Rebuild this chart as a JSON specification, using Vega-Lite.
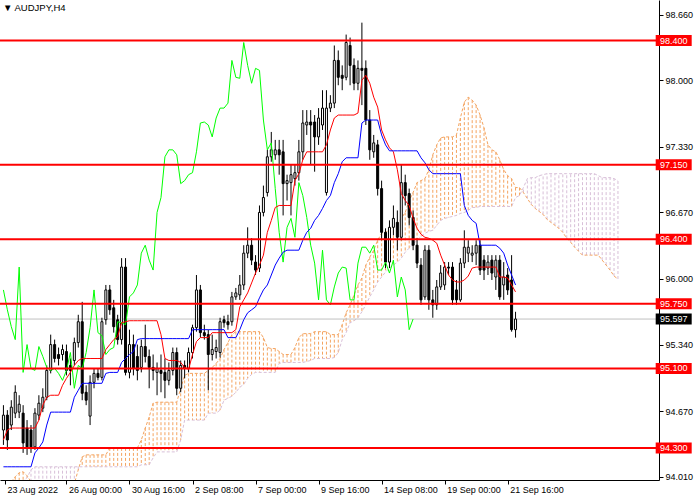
{
  "$schema": "https://vega.github.io/schema/vega-lite/v6.json",
  "width": 659,
  "height": 480,
  "autosize": {"type": "none"},
  "padding": {"left": 0, "top": 0, "right": 41, "bottom": 20},
  "background": "white",
  "config": {
    "view": {"stroke": null},
    "font": "Liberation Sans",
    "axis": {"grid": false, "labelFontSize": 9, "labelColor": "black", "tickColor": "black", "domainColor": "black", "tickSize": 4, "labelBound": false, "labelFlush": false, "labelOverlap": false}
  },
  "title": {"text": "▼ AUDJPY,H4", "anchor": "start", "frame": "group", "offset": -12, "dx": 3, "fontSize": 9.5, "fontWeight": "normal", "color": "black"},
  "datasets": {
    "bars": [
      {"i":0,"o":94.48,"h":94.73,"l":94.33,"c":94.63,"t":94.38,"k":94.11,"a":93.90,"b":93.88},
      {"i":1,"o":94.63,"h":94.68,"l":94.28,"c":94.38,"t":94.48,"k":94.11,"a":93.92,"b":93.89},
      {"i":2,"o":94.53,"h":94.78,"l":94.48,"c":94.71,"t":94.50,"k":94.11,"a":93.96,"b":93.91},
      {"i":3,"o":94.65,"h":94.93,"l":94.60,"c":94.86,"t":94.50,"k":94.11,"a":94.01,"b":93.93},
      {"i":4,"o":94.66,"h":94.83,"l":94.60,"c":94.74,"t":94.50,"k":94.11,"a":94.05,"b":93.95},
      {"i":5,"o":94.65,"h":94.73,"l":94.25,"c":94.35,"t":94.50,"k":94.11,"a":94.06,"b":93.97},
      {"i":6,"o":94.50,"h":94.58,"l":94.23,"c":94.31,"t":94.50,"k":94.11,"a":94.02,"b":94.00},
      {"i":7,"o":94.48,"h":94.53,"l":94.25,"c":94.31,"t":94.50,"k":94.11,"a":93.96,"b":94.08},
      {"i":8,"o":94.31,"h":94.70,"l":94.28,"c":94.65,"t":94.50,"k":94.25,"a":93.94,"b":94.11},
      {"i":9,"o":94.63,"h":94.83,"l":94.58,"c":94.75,"t":94.58,"k":94.30,"a":93.94,"b":94.11},
      {"i":10,"o":94.70,"h":94.90,"l":94.66,"c":94.81,"t":94.73,"k":94.36,"a":93.94,"b":94.11},
      {"i":11,"o":94.81,"h":95.13,"l":94.78,"c":95.08,"t":94.81,"k":94.53,"a":93.94,"b":94.11},
      {"i":12,"o":95.08,"h":95.44,"l":95.05,"c":95.34,"t":94.83,"k":94.66,"a":93.94,"b":94.11},
      {"i":13,"o":95.34,"h":95.39,"l":95.16,"c":95.20,"t":94.83,"k":94.66,"a":93.94,"b":94.11},
      {"i":14,"o":95.24,"h":95.31,"l":95.13,"c":95.20,"t":94.83,"k":94.66,"a":93.94,"b":94.11},
      {"i":15,"o":95.24,"h":95.34,"l":95.18,"c":95.29,"t":94.93,"k":94.66,"a":93.94,"b":94.11},
      {"i":16,"o":95.27,"h":95.34,"l":95.03,"c":95.08,"t":95.00,"k":94.66,"a":93.94,"b":94.11},
      {"i":17,"o":95.13,"h":95.20,"l":94.93,"c":95.08,"t":95.06,"k":94.66,"a":93.94,"b":94.11},
      {"i":18,"o":95.18,"h":95.41,"l":95.13,"c":95.36,"t":95.13,"k":94.81,"a":93.94,"b":94.11},
      {"i":19,"o":95.36,"h":95.64,"l":95.31,"c":95.57,"t":95.18,"k":94.88,"a":94.08,"b":94.11},
      {"i":20,"o":95.57,"h":95.77,"l":94.78,"c":94.85,"t":95.20,"k":94.95,"a":94.21,"b":94.11},
      {"i":21,"o":94.86,"h":94.93,"l":94.73,"c":94.78,"t":95.20,"k":94.95,"a":94.23,"b":94.11},
      {"i":22,"o":94.62,"h":95.03,"l":94.53,"c":94.96,"t":95.20,"k":94.95,"a":94.23,"b":94.11},
      {"i":23,"o":94.96,"h":95.10,"l":94.90,"c":95.05,"t":95.20,"k":94.95,"a":94.23,"b":94.11},
      {"i":24,"o":95.05,"h":95.10,"l":94.98,"c":95.01,"t":95.20,"k":94.95,"a":94.23,"b":94.11},
      {"i":25,"o":95.01,"h":95.61,"l":94.98,"c":95.57,"t":95.20,"k":94.95,"a":94.23,"b":94.11},
      {"i":26,"o":95.59,"h":95.94,"l":95.54,"c":95.89,"t":95.29,"k":95.05,"a":94.23,"b":94.11},
      {"i":27,"o":95.89,"h":95.94,"l":95.64,"c":95.69,"t":95.34,"k":95.06,"a":94.30,"b":94.11},
      {"i":28,"o":95.71,"h":95.79,"l":95.46,"c":95.52,"t":95.39,"k":95.06,"a":94.30,"b":94.11},
      {"i":29,"o":95.59,"h":95.64,"l":95.34,"c":95.39,"t":95.42,"k":95.06,"a":94.30,"b":94.11},
      {"i":30,"o":95.39,"h":96.21,"l":95.34,"c":96.12,"t":95.56,"k":95.16,"a":94.30,"b":94.11},
      {"i":31,"o":96.12,"h":96.21,"l":95.03,"c":95.06,"t":95.57,"k":95.20,"a":94.30,"b":94.11},
      {"i":32,"o":95.06,"h":95.49,"l":95.00,"c":95.34,"t":95.58,"k":95.24,"a":94.30,"b":94.11},
      {"i":33,"o":95.34,"h":95.44,"l":95.03,"c":95.10,"t":95.58,"k":95.27,"a":94.30,"b":94.11},
      {"i":34,"o":95.22,"h":95.34,"l":94.98,"c":95.08,"t":95.58,"k":95.39,"a":94.30,"b":94.11},
      {"i":35,"o":95.11,"h":95.39,"l":95.06,"c":95.32,"t":95.58,"k":95.40,"a":94.38,"b":94.13},
      {"i":36,"o":95.32,"h":95.54,"l":95.16,"c":95.22,"t":95.58,"k":95.40,"a":94.50,"b":94.13},
      {"i":37,"o":95.22,"h":95.29,"l":94.90,"c":95.11,"t":95.58,"k":95.40,"a":94.61,"b":94.13},
      {"i":38,"o":95.11,"h":95.24,"l":94.98,"c":95.08,"t":95.58,"k":95.40,"a":94.75,"b":94.20},
      {"i":39,"o":95.06,"h":95.16,"l":94.83,"c":95.10,"t":95.58,"k":95.40,"a":94.76,"b":94.26},
      {"i":40,"o":95.08,"h":95.24,"l":94.86,"c":95.05,"t":95.44,"k":95.40,"a":94.76,"b":94.26},
      {"i":41,"o":95.06,"h":95.20,"l":94.80,"c":94.98,"t":95.20,"k":95.40,"a":94.76,"b":94.26},
      {"i":42,"o":94.98,"h":95.16,"l":94.93,"c":95.08,"t":95.18,"k":95.40,"a":94.76,"b":94.26},
      {"i":43,"o":95.08,"h":95.31,"l":95.03,"c":95.26,"t":95.18,"k":95.40,"a":94.76,"b":94.26},
      {"i":44,"o":95.26,"h":95.31,"l":94.83,"c":94.90,"t":95.18,"k":95.40,"a":94.76,"b":94.26},
      {"i":45,"o":94.90,"h":95.18,"l":94.86,"c":95.13,"t":95.16,"k":95.40,"a":94.90,"b":94.38},
      {"i":46,"o":95.13,"h":95.18,"l":95.00,"c":95.10,"t":95.11,"k":95.40,"a":95.03,"b":94.58},
      {"i":47,"o":95.10,"h":95.31,"l":95.06,"c":95.26,"t":95.09,"k":95.40,"a":95.05,"b":94.58},
      {"i":48,"o":95.26,"h":95.54,"l":95.20,"c":95.51,"t":95.24,"k":95.49,"a":95.05,"b":94.58},
      {"i":49,"o":95.51,"h":96.04,"l":95.47,"c":95.89,"t":95.37,"k":95.49,"a":95.05,"b":94.58},
      {"i":50,"o":95.89,"h":95.94,"l":95.41,"c":95.46,"t":95.41,"k":95.49,"a":95.05,"b":94.58},
      {"i":51,"o":95.46,"h":95.54,"l":95.39,"c":95.43,"t":95.41,"k":95.49,"a":95.05,"b":94.58},
      {"i":52,"o":95.44,"h":95.49,"l":94.88,"c":95.24,"t":95.41,"k":95.49,"a":95.08,"b":94.65},
      {"i":53,"o":95.24,"h":95.44,"l":95.18,"c":95.29,"t":95.46,"k":95.49,"a":95.11,"b":94.65},
      {"i":54,"o":95.27,"h":95.39,"l":95.20,"c":95.31,"t":95.46,"k":95.49,"a":95.15,"b":94.65},
      {"i":55,"o":95.26,"h":95.61,"l":95.21,"c":95.57,"t":95.46,"k":95.49,"a":95.20,"b":94.68},
      {"i":56,"o":95.59,"h":95.63,"l":95.51,"c":95.56,"t":95.46,"k":95.49,"a":95.29,"b":94.78},
      {"i":57,"o":95.57,"h":95.64,"l":95.49,"c":95.54,"t":95.46,"k":95.41,"a":95.36,"b":94.80},
      {"i":58,"o":95.57,"h":95.87,"l":95.53,"c":95.82,"t":95.46,"k":95.41,"a":95.44,"b":94.82},
      {"i":59,"o":95.82,"h":95.91,"l":95.79,"c":95.86,"t":95.49,"k":95.41,"a":95.47,"b":94.86},
      {"i":60,"o":95.84,"h":96.04,"l":95.79,"c":95.94,"t":95.72,"k":95.49,"a":95.47,"b":94.91},
      {"i":61,"o":95.94,"h":96.34,"l":95.89,"c":96.26,"t":95.79,"k":95.59,"a":95.47,"b":94.94},
      {"i":62,"o":96.26,"h":96.52,"l":96.21,"c":96.34,"t":95.86,"k":95.66,"a":95.47,"b":95.00},
      {"i":63,"o":96.34,"h":96.41,"l":96.14,"c":96.19,"t":95.96,"k":95.69,"a":95.47,"b":95.04},
      {"i":64,"o":96.17,"h":96.24,"l":96.04,"c":96.09,"t":96.06,"k":95.72,"a":95.47,"b":95.06},
      {"i":65,"o":96.11,"h":96.74,"l":96.07,"c":96.67,"t":96.14,"k":95.81,"a":95.47,"b":95.06},
      {"i":66,"o":96.67,"h":96.94,"l":96.63,"c":96.82,"t":96.24,"k":95.89,"a":95.41,"b":95.06},
      {"i":67,"o":96.87,"h":97.30,"l":96.83,"c":97.23,"t":96.47,"k":95.94,"a":95.31,"b":95.06},
      {"i":68,"o":97.23,"h":97.48,"l":97.18,"c":97.30,"t":96.59,"k":96.04,"a":95.30,"b":95.06},
      {"i":69,"o":97.25,"h":97.40,"l":97.20,"c":97.30,"t":96.72,"k":96.14,"a":95.30,"b":95.06},
      {"i":70,"o":97.30,"h":97.40,"l":97.05,"c":97.25,"t":96.74,"k":96.21,"a":95.27,"b":95.15},
      {"i":71,"o":97.28,"h":97.40,"l":96.64,"c":96.96,"t":96.74,"k":96.27,"a":95.24,"b":95.16},
      {"i":72,"o":96.96,"h":97.05,"l":96.79,"c":96.99,"t":96.74,"k":96.29,"a":95.24,"b":95.16},
      {"i":73,"o":96.97,"h":97.15,"l":96.64,"c":97.05,"t":96.74,"k":96.29,"a":95.24,"b":95.16},
      {"i":74,"o":97.01,"h":97.15,"l":96.94,"c":97.07,"t":96.99,"k":96.29,"a":95.31,"b":95.16},
      {"i":75,"o":97.07,"h":97.40,"l":96.99,"c":97.28,"t":97.06,"k":96.29,"a":95.41,"b":95.16},
      {"i":76,"o":97.28,"h":97.70,"l":97.20,"c":97.57,"t":97.20,"k":96.39,"a":95.45,"b":95.16},
      {"i":77,"o":97.55,"h":97.70,"l":97.45,"c":97.58,"t":97.28,"k":96.47,"a":95.45,"b":95.17},
      {"i":78,"o":97.58,"h":97.70,"l":97.15,"c":97.55,"t":97.28,"k":96.51,"a":95.45,"b":95.18},
      {"i":79,"o":97.58,"h":97.65,"l":97.08,"c":97.43,"t":97.28,"k":96.59,"a":95.47,"b":95.20},
      {"i":80,"o":97.43,"h":97.72,"l":97.35,"c":97.62,"t":97.28,"k":96.64,"a":95.47,"b":95.20},
      {"i":81,"o":97.55,"h":97.90,"l":97.50,"c":97.72,"t":97.28,"k":96.71,"a":95.47,"b":95.20},
      {"i":82,"o":96.87,"h":97.90,"l":96.84,"c":97.72,"t":97.35,"k":96.79,"a":95.47,"b":95.20},
      {"i":83,"o":97.72,"h":97.85,"l":97.68,"c":97.77,"t":97.50,"k":96.84,"a":95.44,"b":95.20},
      {"i":84,"o":97.77,"h":98.35,"l":97.72,"c":98.20,"t":97.62,"k":96.97,"a":95.44,"b":95.21},
      {"i":85,"o":98.20,"h":98.30,"l":97.95,"c":98.03,"t":97.65,"k":97.06,"a":95.44,"b":95.26},
      {"i":86,"o":98.05,"h":98.15,"l":97.90,"c":98.02,"t":97.65,"k":97.18,"a":95.54,"b":95.39},
      {"i":87,"o":98.03,"h":98.46,"l":98.00,"c":98.38,"t":97.65,"k":97.22,"a":95.66,"b":95.46},
      {"i":88,"o":98.35,"h":98.43,"l":97.95,"c":98.15,"t":97.65,"k":97.22,"a":95.74,"b":95.56},
      {"i":89,"o":98.15,"h":98.22,"l":97.90,"c":97.97,"t":97.65,"k":97.22,"a":95.84,"b":95.58},
      {"i":90,"o":97.97,"h":98.20,"l":97.90,"c":98.12,"t":97.67,"k":97.22,"a":95.94,"b":95.61},
      {"i":91,"o":98.12,"h":98.58,"l":97.75,"c":98.10,"t":98.00,"k":97.57,"a":96.01,"b":95.67},
      {"i":92,"o":98.12,"h":98.20,"l":97.55,"c":97.60,"t":98.05,"k":97.60,"a":96.14,"b":95.74},
      {"i":93,"o":97.60,"h":97.70,"l":97.20,"c":97.30,"t":97.97,"k":97.60,"a":96.22,"b":95.82},
      {"i":94,"o":97.28,"h":97.45,"l":97.22,"c":97.37,"t":97.83,"k":97.60,"a":96.29,"b":95.89},
      {"i":95,"o":97.35,"h":97.40,"l":96.84,"c":96.91,"t":97.73,"k":97.60,"a":96.39,"b":95.97},
      {"i":96,"o":96.91,"h":96.99,"l":96.39,"c":96.47,"t":97.50,"k":97.45,"a":96.46,"b":96.02},
      {"i":97,"o":96.47,"h":96.51,"l":96.11,"c":96.17,"t":97.40,"k":97.35,"a":96.47,"b":96.07},
      {"i":98,"o":96.17,"h":96.59,"l":96.11,"c":96.52,"t":97.32,"k":97.29,"a":96.49,"b":96.11},
      {"i":99,"o":96.52,"h":96.74,"l":96.44,"c":96.61,"t":97.28,"k":97.29,"a":96.54,"b":96.14},
      {"i":100,"o":96.57,"h":96.69,"l":96.29,"c":96.42,"t":97.10,"k":97.29,"a":96.56,"b":96.17},
      {"i":101,"o":96.42,"h":97.15,"l":96.39,"c":96.97,"t":96.86,"k":97.29,"a":96.61,"b":96.21},
      {"i":102,"o":96.97,"h":97.05,"l":96.74,"c":96.84,"t":96.79,"k":97.29,"a":96.67,"b":96.27},
      {"i":103,"o":96.86,"h":96.91,"l":96.54,"c":96.62,"t":96.74,"k":97.29,"a":96.79,"b":96.31},
      {"i":104,"o":96.62,"h":96.69,"l":96.29,"c":96.34,"t":96.61,"k":97.29,"a":96.87,"b":96.35},
      {"i":105,"o":96.34,"h":96.41,"l":96.11,"c":96.16,"t":96.51,"k":97.29,"a":96.97,"b":96.39},
      {"i":106,"o":96.14,"h":96.21,"l":95.74,"c":95.79,"t":96.45,"k":97.22,"a":96.99,"b":96.43},
      {"i":107,"o":95.82,"h":96.34,"l":95.79,"c":96.29,"t":96.42,"k":97.17,"a":97.01,"b":96.46},
      {"i":108,"o":96.29,"h":96.34,"l":95.69,"c":95.79,"t":96.41,"k":97.10,"a":97.10,"b":96.48},
      {"i":109,"o":95.79,"h":95.89,"l":95.61,"c":95.74,"t":96.39,"k":97.06,"a":97.25,"b":96.49},
      {"i":110,"o":95.74,"h":95.99,"l":95.69,"c":95.92,"t":96.36,"k":97.06,"a":97.35,"b":96.54},
      {"i":111,"o":95.92,"h":96.14,"l":95.89,"c":96.06,"t":96.24,"k":97.06,"a":97.42,"b":96.59},
      {"i":112,"o":95.94,"h":96.17,"l":95.89,"c":96.12,"t":96.14,"k":97.06,"a":97.43,"b":96.61},
      {"i":113,"o":96.12,"h":96.17,"l":96.04,"c":96.11,"t":96.04,"k":97.06,"a":97.43,"b":96.62},
      {"i":114,"o":96.12,"h":96.17,"l":95.74,"c":95.79,"t":95.99,"k":97.06,"a":97.43,"b":96.63},
      {"i":115,"o":95.89,"h":95.99,"l":95.74,"c":95.79,"t":95.97,"k":97.06,"a":97.45,"b":96.64},
      {"i":116,"o":95.79,"h":96.21,"l":95.77,"c":96.16,"t":95.97,"k":97.06,"a":97.62,"b":96.66},
      {"i":117,"o":96.16,"h":96.49,"l":96.11,"c":96.32,"t":95.99,"k":96.74,"a":97.78,"b":96.67},
      {"i":118,"o":96.26,"h":96.39,"l":96.17,"c":96.32,"t":96.03,"k":96.64,"a":97.83,"b":96.69},
      {"i":119,"o":96.24,"h":96.34,"l":96.17,"c":96.26,"t":96.11,"k":96.59,"a":97.80,"b":96.72},
      {"i":120,"o":96.26,"h":96.39,"l":96.14,"c":96.34,"t":96.12,"k":96.56,"a":97.75,"b":96.72},
      {"i":121,"o":96.34,"h":96.39,"l":96.04,"c":96.09,"t":96.12,"k":96.34,"a":97.65,"b":96.73},
      {"i":122,"o":96.19,"h":96.24,"l":95.99,"c":96.09,"t":96.12,"k":96.34,"a":97.52,"b":96.73},
      {"i":123,"o":96.11,"h":96.24,"l":96.04,"c":96.17,"t":96.12,"k":96.34,"a":97.35,"b":96.73},
      {"i":124,"o":96.19,"h":96.24,"l":95.99,"c":96.06,"t":96.12,"k":96.34,"a":97.30,"b":96.73},
      {"i":125,"o":96.02,"h":96.24,"l":95.89,"c":96.19,"t":96.12,"k":96.34,"a":97.28,"b":96.73},
      {"i":126,"o":96.19,"h":96.24,"l":95.79,"c":95.82,"t":96.02,"k":96.31,"a":97.20,"b":96.73},
      {"i":127,"o":95.94,"h":96.17,"l":95.79,"c":96.02,"t":96.02,"k":96.26,"a":97.10,"b":96.73},
      {"i":128,"o":96.04,"h":96.11,"l":95.84,"c":95.89,"t":96.01,"k":96.14,"a":97.04,"b":96.73},
      {"i":129,"o":95.99,"h":96.24,"l":95.47,"c":95.49,"t":95.94,"k":96.04,"a":97.01,"b":96.73},
      {"i":130,"o":95.49,"h":95.67,"l":95.41,"c":95.597,"t":95.87,"k":95.94,"a":96.92,"b":96.82},
      {"i":131,"a":96.92,"b":96.84},
      {"i":132,"a":96.87,"b":96.92},
      {"i":133,"a":96.81,"b":97.01},
      {"i":134,"a":96.75,"b":97.02},
      {"i":135,"a":96.71,"b":97.02},
      {"i":136,"a":96.68,"b":97.04},
      {"i":137,"a":96.65,"b":97.05},
      {"i":138,"a":96.60,"b":97.06},
      {"i":139,"a":96.57,"b":97.06},
      {"i":140,"a":96.54,"b":97.06},
      {"i":141,"a":96.51,"b":97.06},
      {"i":142,"a":96.47,"b":97.06},
      {"i":143,"a":96.41,"b":97.06},
      {"i":144,"a":96.37,"b":97.06},
      {"i":145,"a":96.32,"b":97.06},
      {"i":146,"a":96.28,"b":97.06},
      {"i":147,"a":96.24,"b":97.06},
      {"i":148,"a":96.24,"b":97.06},
      {"i":149,"a":96.24,"b":97.06},
      {"i":150,"a":96.24,"b":97.06},
      {"i":151,"a":96.24,"b":97.04},
      {"i":152,"a":96.19,"b":97.02},
      {"i":153,"a":96.14,"b":97.02},
      {"i":154,"a":96.09,"b":97.02},
      {"i":155,"a":96.03,"b":97.01},
      {"i":156,"a":96.00,"b":96.99}
    ],
    "levels": [{"p":98.4},{"p":97.15},{"p":96.4},{"p":95.75},{"p":95.1},{"p":94.3}],
    "bid": [{"p":95.597}]
  },
  "layer": [
    {
      "data": {"name": "bars"},
      "mark": {"type": "rule", "strokeDash": [3, 2], "strokeWidth": 1, "clip": true},
      "encoding": {
        "x": {
          "field": "i", "type": "quantitative",
          "scale": {"domain": [0.4, 165.15], "nice": false, "zero": false},
          "axis": {
            "orient": "bottom", "title": null,
            "values": [0.4, 16, 32, 48, 64, 80, 96, 112, 128],
            "labelExpr": "['23 Aug 2022','26 Aug 00:00','30 Aug 16:00','2 Sep 08:00','7 Sep 00:00','9 Sep 16:00','14 Sep 08:00','19 Sep 00:00','21 Sep 16:00'][round(datum.value / 16)]",
            "labelAlign": "left", "labelOffset": 2, "labelPadding": 1
          }
        },
        "y": {
          "field": "a", "type": "quantitative",
          "scale": {"domain": [93.977, 98.808], "nice": false, "zero": false},
          "axis": {
            "orient": "right", "title": null,
            "values": [94.01, 94.34, 94.67, 95.0, 95.34, 95.67, 96.0, 96.33, 96.67, 97.0, 97.33, 97.67, 98.0, 98.33, 98.66],
            "format": ".3f", "labelPadding": 2
          }
        },
        "y2": {"field": "b"},
        "color": {"condition": {"test": "datum.a >= datum.b", "value": "#F4A460"}, "value": "#D8BFD8"}
      }
    },
    {
      "data": {"name": "bars"},
      "mark": {"type": "line", "color": "#F4A460", "strokeDash": [3, 2], "strokeWidth": 1, "clip": true},
      "encoding": {
        "x": {"field": "i", "type": "quantitative", "axis": {"title": null}},
        "y": {"field": "a", "type": "quantitative", "axis": {"title": null}}
      }
    },
    {
      "data": {"name": "bars"},
      "mark": {"type": "line", "color": "#D8BFD8", "strokeDash": [3, 2], "strokeWidth": 1, "clip": true},
      "encoding": {
        "x": {"field": "i", "type": "quantitative", "axis": {"title": null}},
        "y": {"field": "b", "type": "quantitative", "axis": {"title": null}}
      }
    },
    {
      "data": {"name": "bid"},
      "mark": {"type": "rule", "color": "#C0C0C0", "strokeWidth": 1},
      "encoding": {"y": {"field": "p", "type": "quantitative", "axis": {"title": null}}}
    },
    {
      "data": {"name": "bars"},
      "transform": [{"filter": "isValid(datum.c)"}],
      "mark": {"type": "rule", "color": "black", "strokeWidth": 1},
      "encoding": {
        "x": {"field": "i", "type": "quantitative", "axis": {"title": null}},
        "y": {"field": "l", "type": "quantitative", "axis": {"title": null}},
        "y2": {"field": "h"}
      }
    },
    {
      "data": {"name": "bars"},
      "transform": [{"filter": "isValid(datum.c)"}],
      "mark": {"type": "bar", "width": 2, "stroke": "black", "strokeWidth": 1},
      "encoding": {
        "x": {"field": "i", "type": "quantitative", "axis": {"title": null}},
        "y": {"field": "o", "type": "quantitative", "axis": {"title": null}},
        "y2": {"field": "c"},
        "fill": {"condition": {"test": "datum.c >= datum.o", "value": "white"}, "value": "black"}
      }
    },
    {
      "data": {"name": "bars"},
      "transform": [
        {"window": [{"op": "lead", "field": "c", "param": 26, "as": "ch"}], "sort": [{"field": "i", "order": "ascending"}]},
        {"filter": "isValid(datum.ch)"}
      ],
      "mark": {"type": "line", "color": "#00FF00", "strokeWidth": 1, "clip": true},
      "encoding": {
        "x": {"field": "i", "type": "quantitative", "axis": {"title": null}},
        "y": {"field": "ch", "type": "quantitative", "axis": {"title": null}}
      }
    },
    {
      "data": {"name": "bars"},
      "transform": [{"filter": "isValid(datum.t)"}],
      "mark": {"type": "line", "color": "#FF0000", "strokeWidth": 1, "clip": true},
      "encoding": {
        "x": {"field": "i", "type": "quantitative", "axis": {"title": null}},
        "y": {"field": "t", "type": "quantitative", "axis": {"title": null}}
      }
    },
    {
      "data": {"name": "bars"},
      "transform": [{"filter": "isValid(datum.k)"}],
      "mark": {"type": "line", "color": "#0000FF", "strokeWidth": 1, "clip": true},
      "encoding": {
        "x": {"field": "i", "type": "quantitative", "axis": {"title": null}},
        "y": {"field": "k", "type": "quantitative", "axis": {"title": null}}
      }
    },
    {
      "data": {"name": "levels"},
      "mark": {"type": "rule", "color": "#FF0000", "strokeWidth": 2},
      "encoding": {"y": {"field": "p", "type": "quantitative", "axis": {"title": null}}}
    },
    {
      "data": {"name": "levels"},
      "mark": {"type": "tick", "orient": "horizontal", "size": 36, "thickness": 11, "color": "#FF0000", "opacity": 1, "clip": false},
      "encoding": {
        "x": {"datum": 170.15, "type": "quantitative", "axis": {"title": null}},
        "y": {"field": "p", "type": "quantitative", "axis": {"title": null}}
      }
    },
    {
      "data": {"name": "levels"},
      "mark": {"type": "text", "color": "white", "fontSize": 9, "align": "center", "baseline": "middle", "clip": false},
      "encoding": {
        "x": {"datum": 170.15, "type": "quantitative", "axis": {"title": null}},
        "y": {"field": "p", "type": "quantitative", "axis": {"title": null}},
        "text": {"field": "p", "type": "quantitative", "format": ".3f"}
      }
    },
    {
      "data": {"name": "bid"},
      "mark": {"type": "tick", "orient": "horizontal", "size": 36, "thickness": 11, "color": "black", "opacity": 1, "clip": false},
      "encoding": {
        "x": {"datum": 170.15, "type": "quantitative", "axis": {"title": null}},
        "y": {"field": "p", "type": "quantitative", "axis": {"title": null}}
      }
    },
    {
      "data": {"name": "bid"},
      "mark": {"type": "text", "color": "white", "fontSize": 9, "align": "center", "baseline": "middle", "clip": false},
      "encoding": {
        "x": {"datum": 170.15, "type": "quantitative", "axis": {"title": null}},
        "y": {"field": "p", "type": "quantitative", "axis": {"title": null}},
        "text": {"field": "p", "type": "quantitative", "format": ".3f"}
      }
    }
  ]
}
